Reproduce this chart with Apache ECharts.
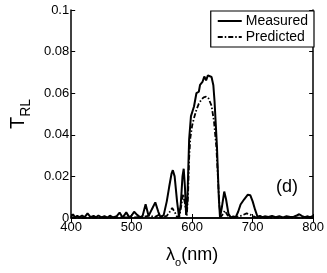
<!DOCTYPE html>
<html><head><meta charset="utf-8">
<script src="https://cdn.jsdelivr.net/npm/echarts@6/dist/echarts.min.js"></script>
<style>html,body{margin:0;padding:0;background:#fff}#c{width:327px;height:273px}</style>
</head><body><div id="c"></div>
<script>
const xTicks = [400, 500, 600, 700, 800];
const yTicks = [0, 0.02, 0.04, 0.06, 0.08, 0.1];
const measuredX = [400,403,406,410,414,418,422,427,432,437,441,445,450,455,460,464,469,475,480,485,491,496,500,504,509,514,518,523,528,533,539,544,548,553,558,562,566,568,571,575,578,581,584,586,588,590,592,595,598,603,607,611,613,617,620,623,626,629,632,635,637,641,644,646,649,653,656,660,664,668,672,676,680,686,692,696,700,704,708,712,716,720,726,732,738,744,750,756,762,768,773,777,781,786,790,795,800];
const measuredY = [0.0005,0.0018,0.0003,0.001,0.0004,0.0012,0.0003,0.0022,0.0004,0.0010,0.0003,0.0012,0.0003,0.0009,0.0002,0.0011,0.0003,0.0008,0.0026,0.0002,0.0027,0.0003,0.0012,0.0030,0.0015,0.0003,0.0010,0.0066,0.0010,0.0040,0.0075,0.0030,0.0002,0.0015,0.0080,0.0150,0.0215,0.0230,0.0200,0.0080,0.0010,0.0060,0.0200,0.0237,0.0150,0.0015,0.0080,0.0380,0.0490,0.0536,0.0600,0.0607,0.0640,0.0654,0.0680,0.0662,0.0686,0.0695,0.0678,0.0638,0.0560,0.0340,0.0100,0.0003,0.0050,0.0127,0.0090,0.0020,0.0002,0.0008,0.0004,0.0030,0.0065,0.0090,0.0112,0.0110,0.0080,0.0040,0.0006,0.0010,0.0004,0.0008,0.0005,0.0010,0.0004,0.0009,0.0003,0.0008,0.0005,0.0006,0.0012,0.0018,0.0010,0.0004,0.0008,0.0004,0.0010];
const predictedX = [400,450,500,520,530,538,545,552,558,563,567,571,575,579,582,585,588,591,593,595,597,600,603,607,611,615,619,623,627,632,636,640,643,645,647,650,654,658,662,670,680,690,697,705,720,760,800];
const predictedY = [0,0.0002,0.0003,0.0005,0.0012,0.0004,0.0015,0.0005,0.0010,0.0030,0.0048,0.0030,0.0005,0.0008,0.0060,0.0115,0.0070,0.0010,0.0100,0.0290,0.0387,0.0445,0.0480,0.0520,0.0550,0.0568,0.0580,0.0583,0.0575,0.0540,0.0466,0.0340,0.0170,0.0060,0.0005,0.0015,0.0035,0.0015,0.0002,0.0003,0.0010,0.0022,0.0015,0.0003,0.0001,0.0002,0.0001];
const seriesNames = ['Measured', 'Predicted'];

const font = 'Liberation Sans, Arial, sans-serif';
const chart = echarts.init(document.getElementById('c'), null, {renderer: 'canvas'});
const axisCommon = {
  axisLine: {show: true, lineStyle: {color: '#000', width: 1.5}},
  axisTick: {show: true, inside: true, length: 4, lineStyle: {color: '#000', width: 1}},
  splitLine: {show: false}
};
chart.setOption({
  animation: false,
  backgroundColor: '#fff',
  grid: {left: 65, right: 12, top: 10, bottom: 51, containLabel: false},
  legend: {
    orient: 'vertical', right: 13, top: 11, padding: [3, 6, 3, 6], itemGap: 2,
    borderColor: '#000', borderWidth: 1.2, backgroundColor: '#fff',
    itemWidth: 24, itemHeight: 8,
    itemStyle: {opacity: 0},
    textStyle: {fontFamily: font, fontSize: 14, color: '#000', padding: [0,0,0,-1]},
    data: seriesNames
  },
  xAxis: [
    Object.assign({type: 'value', min: xTicks[0], max: xTicks[xTicks.length-1], interval: 100, position: 'bottom',
      axisLabel: {color: '#000', fontFamily: font, fontSize: 13, margin: 3},
      name: '{l|λ}{s|o}{l|(nm)}', nameLocation: 'middle', nameGap: 22,
      nameTextStyle: {rich: {
        l: {fontFamily: font, fontSize: 18, color: '#000', lineHeight: 24, verticalAlign: 'bottom'},
        s: {fontFamily: font, fontSize: 11, color: '#000', lineHeight: 24, verticalAlign: 'bottom', padding: [0, 0, -4, 0]}
      }}
    }, axisCommon),
    Object.assign({type: 'value', min: xTicks[0], max: xTicks[xTicks.length-1], interval: 100, position: 'top',
      axisLabel: {show: false}}, axisCommon)
  ],
  yAxis: [
    Object.assign({type: 'value', min: yTicks[0], max: yTicks[yTicks.length-1], interval: 0.02, position: 'left',
      axisLabel: {color: '#000', fontFamily: font, fontSize: 13, margin: 2},
      name: '{l|T}{s|RL}', nameLocation: 'middle', nameGap: 38, nameRotate: 90,
      nameTextStyle: {rich: {
        l: {fontFamily: font, fontSize: 20, color: '#000', lineHeight: 26, verticalAlign: 'bottom'},
        s: {fontFamily: font, fontSize: 14, color: '#000', lineHeight: 26, verticalAlign: 'bottom', padding: [0, 0, -5, 0]}
      }}
    }, axisCommon),
    Object.assign({type: 'value', min: yTicks[0], max: yTicks[yTicks.length-1], interval: 0.02, position: 'right',
      axisLabel: {show: false}}, axisCommon)
  ],
  graphic: [{
    type: 'text', left: 276, top: 178,
    style: {text: '(d)', fontFamily: font, fontSize: 18, fill: '#000'}
  }],
  series: [
    {name: seriesNames[0], type: 'line', xAxisIndex: 0, yAxisIndex: 0, symbol: 'none', showSymbol: false,
      data: measuredX.map((x, i) => [x, measuredY[i]]),
      lineStyle: {color: '#000', width: 2}, itemStyle: {color: '#000'}, z: 3},
    {name: seriesNames[1], type: 'line', xAxisIndex: 0, yAxisIndex: 0, symbol: 'none', showSymbol: false,
      data: predictedX.map((x, i) => [x, predictedY[i]]),
      lineStyle: {color: '#000', width: 1.8, type: [5, 2, 1.5, 2]}, itemStyle: {color: '#000'}, z: 2}
  ]
});
</script></body></html>
